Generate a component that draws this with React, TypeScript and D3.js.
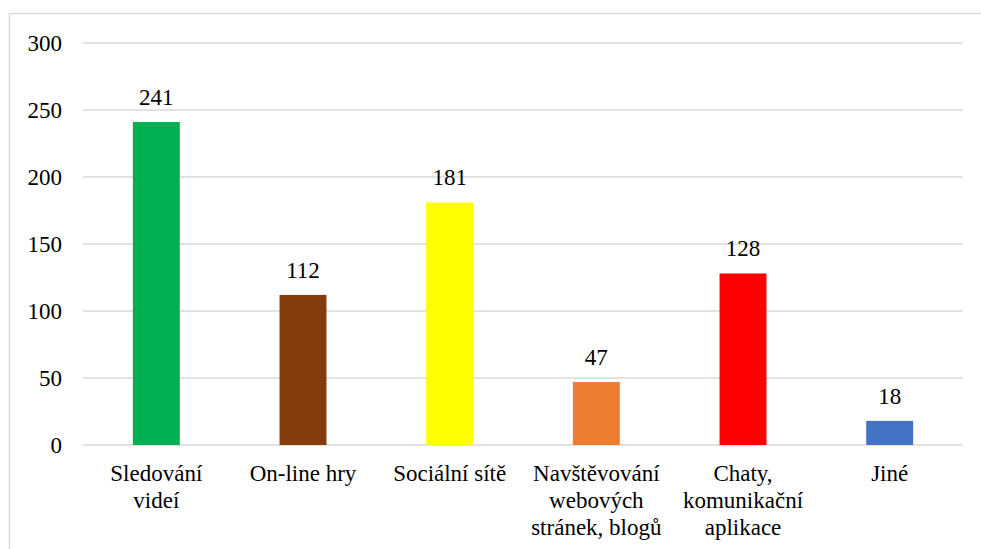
import React from "react";
import * as d3 from "d3";

const categories: string[][] = [
  ["Sledování", "videí"],
  ["On-line hry"],
  ["Sociální sítě"],
  ["Navštěvování", "webových", "stránek, blogů"],
  ["Chaty,", "komunikační", "aplikace"],
  ["Jiné"],
];
const values = [241, 112, 181, 47, 128, 18];
const colors = ["#00B050", "#843C0C", "#FFFF00", "#ED7D31", "#FF0000", "#4472C4"];
const ticks = [0, 50, 100, 150, 200, 250, 300];

const W = 981;
const H = 549;
const plotLeft = 83;
const plotRight = 963;
const plotTop = 43;
const plotBottom = 445;
const FONT = "Liberation Serif, Times New Roman, serif";

export default function App() {
  const x = d3
    .scaleBand<number>()
    .domain(values.map((_, i) => i))
    .range([plotLeft, plotRight])
    .paddingInner(0.68)
    .paddingOuter(0.34);
  const y = d3.scaleLinear().domain([0, 300]).range([plotBottom, plotTop]);
  const fs = 23;
  return (
    <svg width={W} height={H} style={{ position: "absolute", left: 0, top: 0 }}>
      <style>{`text { font-family: "Liberation Serif", "Times New Roman", serif; }`}</style>
      <rect x={0} y={0} width={W} height={H} fill="#fff" />
      <rect x={9.5} y={13.5} width={W + 10} height={H + 10} fill="none" stroke="#d9d9d9" strokeWidth={1.5} />
      {ticks.map((t) => (
        <g key={t}>
          <line x1={plotLeft} x2={plotRight} y1={y(t)} y2={y(t)} stroke="#d9d9d9" strokeWidth={1.5} />
          <text x={62} y={y(t) + 8} textAnchor="end" fontSize={fs} fontFamily={FONT} fill="#000">
            {t}
          </text>
        </g>
      ))}
      {values.map((v, i) => {
        const bx = x(i)!;
        const cx = bx + x.bandwidth() / 2;
        return (
          <g key={i}>
            <rect x={bx} y={y(v)} width={x.bandwidth()} height={y(0) - y(v)} fill={colors[i]} />
            <text x={cx} y={y(v) - 17} textAnchor="middle" fontSize={fs} fontFamily={FONT} fill="#000">
              {v}
            </text>
            {categories[i].map((line, j) => (
              <text key={j} x={cx} y={481 + j * 27} textAnchor="middle" fontSize={fs} fontFamily={FONT} fill="#000">
                {line}
              </text>
            ))}
          </g>
        );
      })}
    </svg>
  );
}
